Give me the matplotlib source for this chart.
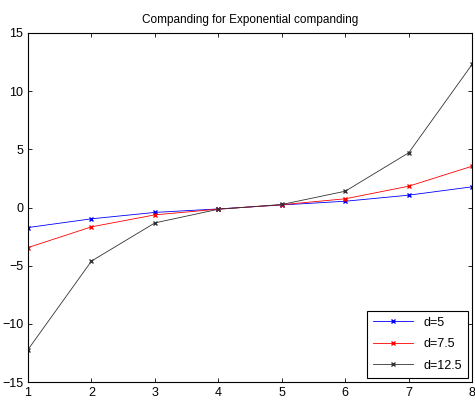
import matplotlib
matplotlib.use("Agg")
import matplotlib.pyplot as plt

plt.rcParams['font.family'] = ['Liberation Sans', 'DejaVu Sans']

x = [1, 2, 3, 4, 5, 6, 7, 8]
d5 = [-1.72, -0.97, -0.42, -0.12, 0.22, 0.54, 1.06, 1.78]
d75 = [-3.44, -1.66, -0.63, -0.14, 0.24, 0.75, 1.83, 3.55]
d125 = [-12.2, -4.6, -1.32, -0.15, 0.26, 1.4, 4.7, 12.3]

fig = plt.figure(figsize=(4.75, 4.01), dpi=100)
ax = fig.add_axes([0.059, 0.047, 0.935, 0.871])

ax.plot(x, d5, color='blue', marker='x', markersize=3.5, linewidth=0.6, label='d=5')
ax.plot(x, d75, color='red', marker='x', markersize=3.5, linewidth=0.6, label='d=7.5')
ax.plot(x, d125, color='#333333', marker='x', markersize=3.5, linewidth=0.6, label='d=12.5')

ax.set_xlim(1, 8)
ax.set_ylim(-15, 15)
ax.set_xticks(x)
ax.set_yticks([-15, -10, -5, 0, 5, 10, 15])
ax.tick_params(direction='in', top=True, right=True, labelsize=9, length=3, width=0.6)
for s in ax.spines.values():
    s.set_linewidth(0.8)
ax.set_title('Companding for Exponential companding', fontsize=8.5, pad=7)

leg = ax.legend(loc='lower right', fontsize=9, fancybox=False, framealpha=1,
                edgecolor='black', borderaxespad=0.35, handlelength=3.2,
                labelspacing=0.75, borderpad=0.5)
leg.get_frame().set_linewidth(0.8)

fig.savefig('out.png', dpi=100)
